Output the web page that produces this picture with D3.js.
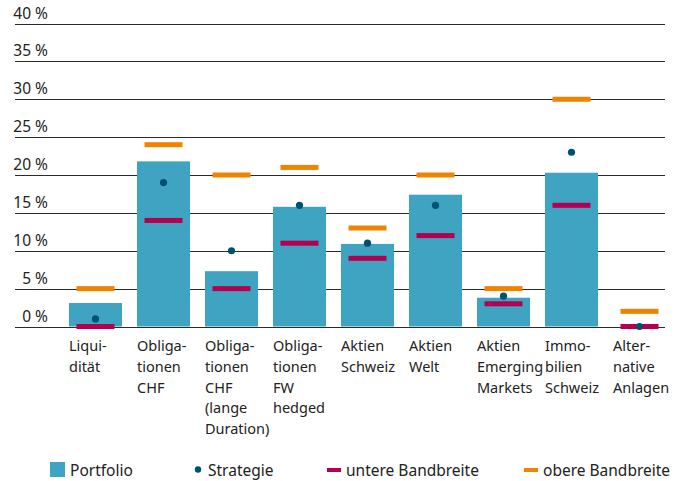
<!DOCTYPE html>
<html><head><meta charset="utf-8">
<script src="https://cdn.jsdelivr.net/npm/d3@7/dist/d3.min.js"></script>
<style>body{margin:0;background:#fff}svg{display:block;font-family:"Noto Sans",sans-serif}</style>
</head><body>
<svg id="c" width="681" height="481"></svg>
<script>
const categories = ["Liquidität","Obligationen CHF","Obligationen CHF (lange Duration)","Obligationen FW hedged","Aktien Schweiz","Aktien Welt","Aktien Emerging Markets","Immobilien Schweiz","Alternative Anlagen"];
const categoryLines = [["Liqui-","dität"],["Obliga-","tionen","CHF"],["Obliga-","tionen","CHF","(lange","Duration)"],["Obliga-","tionen","FW","hedged"],["Aktien","Schweiz"],["Aktien","Welt"],["Aktien","Emerging","Markets"],["Immo-","bilien","Schweiz"],["Alter-","native","Anlagen"]];
const portfolio = [3.1, 21.8, 7.3, 15.8, 10.9, 17.4, 3.8, 20.3, 0];
const strategie = [1, 19, 10, 16, 11, 16, 4, 23, 0];
const untereBandbreite = [0, 14, 5, 11, 9, 12, 3, 16, 0];
const obereBandbreite = [5, 24, 20, 21, 13, 20, 5, 30, 2];
const yTicks = [0,5,10,15,20,25,30,35,40];
const legendLabels = ["Portfolio","Strategie","untere Bandbreite","obere Bandbreite"];

const cBar="#3fa3c2", cDot="#00506f", cLow="#b4004f", cHigh="#f08300";
const svg = d3.select("#c");
const x = d3.scaleBand().domain(categories).range([61.5,673.5]).paddingInner(0.22).paddingOuter(0.11);
const y = d3.scaleLinear().domain([0,40]).range([326.5,23.5]);

// gridlines
svg.append("g").selectAll("line").data(yTicks).join("line")
  .attr("x1",15).attr("x2",665).attr("y1",d=>Math.round(y(d))+0.5).attr("y2",d=>Math.round(y(d))+0.5)
  .attr("stroke","#2b2b2b").attr("stroke-width",1.2);
svg.append("g").selectAll("text").data(yTicks).join("text")
  .attr("x",48).attr("y",d=>y(d)-5).attr("text-anchor","end")
  .attr("font-size",15.5).attr("fill","#222").text(d=>d+" %");

// bars
svg.append("g").selectAll("rect").data(categories).join("rect")
  .attr("x",d=>x(d)).attr("width",x.bandwidth())
  .attr("y",(d,i)=>y(portfolio[i])).attr("height",(d,i)=>y(0)-y(portfolio[i]))
  .attr("fill",cBar);

const mw = 38, mh = 5;
svg.append("g").selectAll("rect").data(categories).join("rect")
  .attr("x",d=>x(d)+x.bandwidth()/2-mw/2).attr("width",mw)
  .attr("y",(d,i)=>y(obereBandbreite[i])-mh/2).attr("height",mh).attr("fill",cHigh);
svg.append("g").selectAll("rect").data(categories).join("rect")
  .attr("x",d=>x(d)+x.bandwidth()/2-mw/2).attr("width",mw)
  .attr("y",(d,i)=>y(untereBandbreite[i])-mh/2).attr("height",mh).attr("fill",cLow);
svg.append("g").selectAll("circle").data(categories).join("circle")
  .attr("cx",d=>x(d)+x.bandwidth()/2).attr("cy",(d,i)=>y(strategie[i])).attr("r",3.6).attr("fill",cDot);

// x labels
const lab = svg.append("g").selectAll("text").data(categories).join("text")
  .attr("x",d=>x(d)).attr("y",351).attr("font-size",14.5).attr("fill","#222");
lab.each(function(d,i){
  d3.select(this).selectAll("tspan").data(categoryLines[i]).join("tspan")
    .attr("x",x(d)).attr("dy",(t,j)=>j===0?0:20.8).text(t=>t);
});

// legend
const ly = 470;
const lg = svg.append("g").attr("font-size",15.5).attr("fill","#222");
lg.append("rect").attr("x",50).attr("y",ly-8).attr("width",15).attr("height",15).attr("fill",cBar);
lg.append("text").attr("x",70).attr("y",ly+5.5).text(legendLabels[0]);
lg.append("circle").attr("cx",198).attr("cy",ly-0.5).attr("r",3.2).attr("fill",cDot);
lg.append("text").attr("x",208).attr("y",ly+5.5).text(legendLabels[1]);
lg.append("rect").attr("x",327).attr("y",ly-2).attr("width",14).attr("height",4).attr("fill",cLow);
lg.append("text").attr("x",346).attr("y",ly+5.5).text(legendLabels[2]);
lg.append("rect").attr("x",524).attr("y",ly-2).attr("width",14).attr("height",4).attr("fill",cHigh);
lg.append("text").attr("x",543).attr("y",ly+5.5).text(legendLabels[3]);
</script>
</body></html>
